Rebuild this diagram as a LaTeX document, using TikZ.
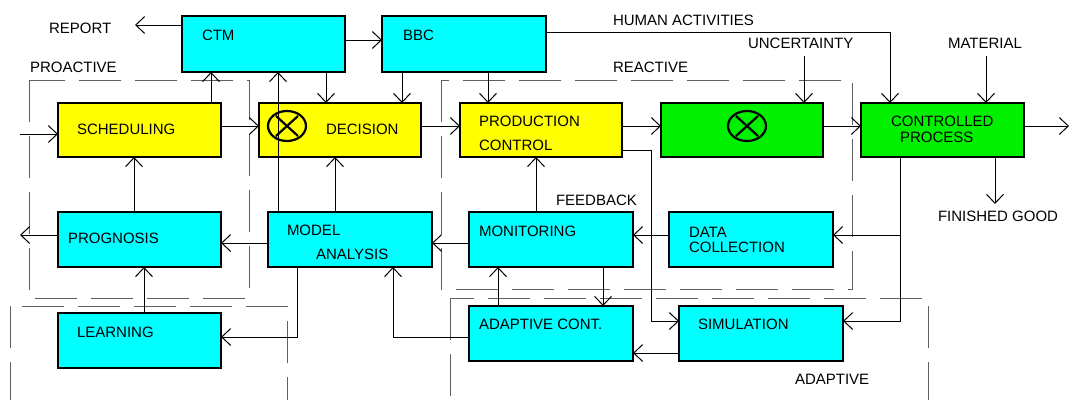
\documentclass[tikz,border=0pt]{standalone}
\usepackage{fontspec}
\setmainfont{Liberation Sans}
\usetikzlibrary{arrows.meta}
\definecolor{cy}{RGB}{0,255,255}
\definecolor{ye}{RGB}{255,255,0}
\definecolor{gr}{RGB}{0,240,0}
\definecolor{dg}{RGB}{95,95,95}
\tikzset{
  boxthick/.style={draw, line width=2.6pt, inner sep=0pt, outer sep=0pt, anchor=north west},
  boxthin/.style={draw, line width=1.2pt, inner sep=0pt, outer sep=0pt, anchor=north west},
  arr/.style={draw, line width=1pt, -{Straight Barb[length=9pt,width=17pt,line width=1pt]}},
  ln/.style={draw, line width=1pt},
  grp/.style={draw=dg, line width=1pt, dash pattern=on 42pt off 14pt},
  txt/.style={anchor=base west, inner sep=0pt, outer sep=0pt, font=\fontsize{15}{18}\selectfont},
  cross/.style={line width=2.2pt}
}
\begin{document}
\begin{tikzpicture}[x=1pt,y=-1pt]
\useasboundingbox (0,0) rectangle (1070,399);
\clip (0,0) rectangle (1070,399);
\fill[white] (0,0) rectangle (1070,399);
% groups
\draw[grp] (29,80) rectangle (249,298);
\draw[grp] (441,80) rectangle (852,289);
\draw[grp] (10,306) rectangle (287,420);
\draw[grp] (450,298) rectangle (928,420);
% boxes
\node[boxthick, fill=cy, minimum width=163pt, minimum height=56pt] (ctm) at (182,16) {};
\node[boxthick, fill=cy, minimum width=164pt, minimum height=56pt] (bbc) at (382,16) {};
\node[boxthick, fill=ye, minimum width=163pt, minimum height=54pt] (sched) at (58,103) {};
\node[boxthin, fill=ye, minimum width=162pt, minimum height=54pt] (dec) at (259,103) {};
\node[boxthin, fill=ye, minimum width=162pt, minimum height=54pt] (prod) at (460,103) {};
\node[boxthin, fill=gr, minimum width=162pt, minimum height=54pt] (grn) at (661,103) {};
\node[boxthin, fill=gr, minimum width=163pt, minimum height=54pt] (proc) at (861,103) {};
\node[boxthin, fill=cy, minimum width=163pt, minimum height=55pt] (prog) at (58,212) {};
\node[boxthick, fill=cy, minimum width=164pt, minimum height=55pt] (model) at (268,212) {};
\node[boxthick, fill=cy, minimum width=164pt, minimum height=55pt] (mon) at (469,212) {};
\node[boxthick, fill=cy, minimum width=164pt, minimum height=55pt] (data) at (669,212) {};
\node[boxthick, fill=cy, minimum width=163pt, minimum height=55pt] (learn) at (58,313) {};
\node[boxthick, fill=cy, minimum width=164pt, minimum height=55pt] (adapt) at (469,306) {};
\node[boxthick, fill=cy, minimum width=164pt, minimum height=55pt] (sim) at (679,306) {};
% circles with cross
\draw[cross] (287,126) ellipse [x radius=19, y radius=15];
\draw[cross] (276,116) -- (298,136) (276,136) -- (298,116);
\draw[cross] (747,126) ellipse [x radius=19, y radius=15];
\draw[cross] (736,116) -- (758,136) (736,136) -- (758,116);
% texts
\node[txt] (treport) at (49,33) {REPORT};
\node[txt] (tctm) at (202,40) {CTM};
\node[txt] (tbbc) at (403,40) {BBC};
\node[txt] (tpro) at (30,72) {PROACTIVE};
\node[txt] (thum) at (613,25) {HUMAN ACTIVITIES};
\node[txt] (trea) at (613,72) {REACTIVE};
\node[txt] (tunc) at (748,48) {UNCERTAINTY};
\node[txt] (tmat) at (948,48) {MATERIAL};
\node[txt] (tsch) at (77,134) {SCHEDULING};
\node[txt] (tdec) at (326,134) {DECISION};
\node[txt] (tprod1) at (479,126) {PRODUCTION};
\node[txt] (tprod2) at (479,150) {CONTROL};
\node[txt] (tcp1) at (891,126) {CONTROLLED};
\node[txt] (tcp2) at (900,142) {PROCESS};
\node[txt] (tfb) at (556,205) {FEEDBACK};
\node[txt] (tfg) at (938,221) {FINISHED GOOD};
\node[txt] (tprog) at (68,243) {PROGNOSIS};
\node[txt] (tmod1) at (287,235) {MODEL};
\node[txt] (tmod2) at (316,259) {ANALYSIS};
\node[txt] (tmon) at (479,236) {MONITORING};
\node[txt] (tdat1) at (689,237) {DATA};
\node[txt] (tdat2) at (689,252) {COLLECTION};
\node[txt] (tlea) at (77,337) {LEARNING};
\node[txt] (tada) at (479,329) {ADAPTIVE CONT.};
\node[txt] (tsim) at (698,329) {SIMULATION};
\node[txt] (tadg) at (795,384) {ADAPTIVE};
% free ends
\coordinate (reportend) at (135,25);
\coordinate (inS) at (20,134);
\coordinate (progout) at (20,235);
\coordinate (procout) at (1069,126);
\coordinate (fgend) at (995,204);
\coordinate (uncs) at (804,56);
\coordinate (mats) at (986,56);
% connectors
\draw[arr] (ctm.west |- 0,25) -- (reportend);
\draw[arr] (ctm.east |- 0,40) -- (bbc.west |- 0,40);
\draw[arr] (bbc.east |- 0,32) -| (proc.north -| 890,0);
\draw[arr] (uncs) -- (grn.north -| uncs);
\draw[arr] (mats) -- (proc.north -| mats);
\draw[arr] (ctm.south -| 326,0) -- (dec.north -| 326,0);
\draw[arr] (bbc.south -| 402,0) -- (dec.north -| 402,0);
\draw[arr] (bbc.south -| 488,0) -- (prod.north -| 488,0);
\draw[arr] (sched.north -| 211,0) -- (ctm.south -| 211,0);
\draw[arr] (model.north -| 278,0) -- (ctm.south -| 278,0);
\draw[arr] (model.north -| 335,0) -- (dec.south -| 335,0);
\draw[arr] (inS) -- (sched.west |- inS);
\draw[arr] (sched.east |- 0,126) -- (dec.west |- 0,126);
\draw[arr] (dec.east |- 0,126) -- (prod.west |- 0,126);
\draw[arr] (prod.east |- 0,126) -- (grn.west |- 0,126);
\draw[arr] (grn.east |- 0,126) -- (proc.west |- 0,126);
\draw[arr] (proc.east |- procout) -- (procout);
\draw[arr] (proc.south -| fgend) -- (fgend);
\draw[arr] (proc.south -| 900,0) |- (sim.east |- 0,321);
\draw[arr] (900,235) -- (data.east |- 0,235);
\draw[arr] (prod.east |- 0,150) -| (651,321) -- (sim.west |- 0,321);
\draw[arr] (mon.north -| 536,0) -- (prod.south -| 536,0);
\draw[arr] (data.west |- 0,235) -- (mon.east |- 0,235);
\draw[arr] (mon.west |- 0,243) -- (model.east |- 0,243);
\draw[arr] (model.west |- 0,243) -- (prog.east |- 0,243);
\draw[arr] (prog.west |- progout) -- (progout);
\draw[arr] (prog.north -| 134,0) -- (sched.south -| 134,0);
\draw[arr] (learn.north -| 144,0) -- (prog.south -| 144,0);
\draw[arr] (model.south -| 297,0) |- (learn.east |- 0,337);
\draw[arr] (adapt.west |- 0,337) -| (model.south -| 393,0);
\draw[arr] (adapt.north -| 498,0) -- (mon.south -| 498,0);
\draw[arr] (mon.south -| 603,0) -- (adapt.north -| 603,0);
\draw[arr] (sim.west |- 0,353) -- (adapt.east |- 0,353);
\end{tikzpicture}
\end{document}
